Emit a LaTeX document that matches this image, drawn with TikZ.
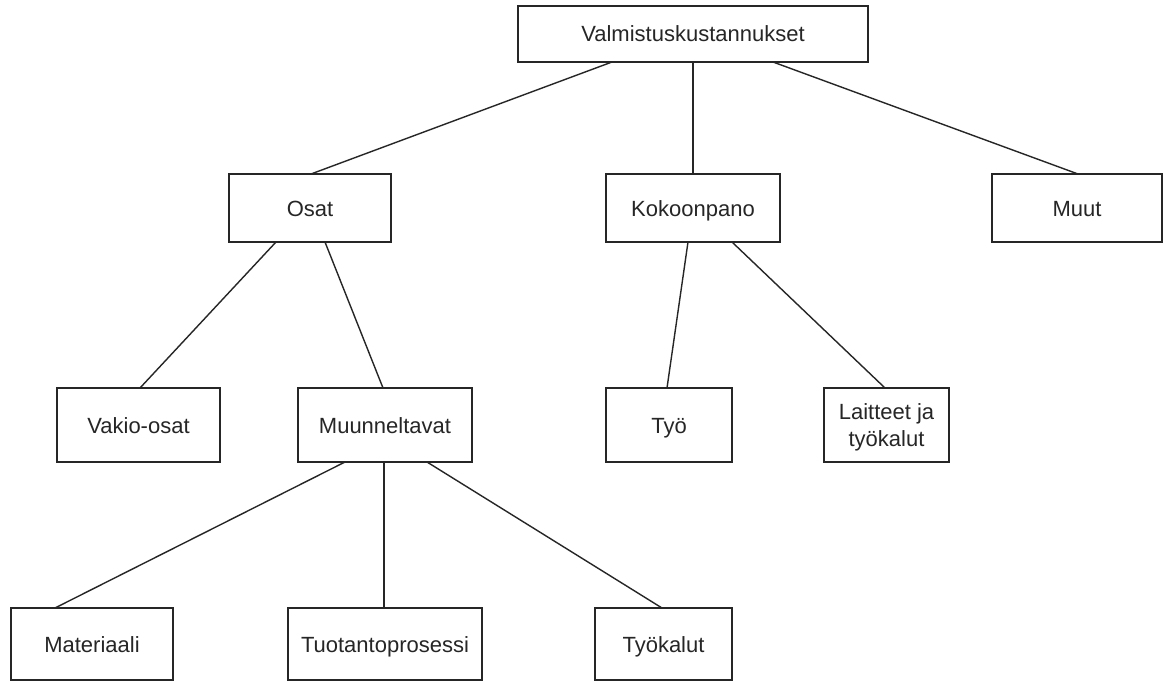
\documentclass[tikz,border=0pt]{standalone}
\usepackage{fontspec}
\setmainfont{Liberation Sans}
\begin{document}
\begin{tikzpicture}[x=1pt,y=-1pt,
  box/.style={draw=black!85, line width=1.6pt, fill=white, inner sep=0pt, outer sep=0pt,
    text=black!85, align=center, font=\fontsize{22}{27}\selectfont,
    text height=16pt, text depth=0pt},
  twoline/.style={box, text height={}, text depth=0pt},
  link/.style={draw=black!85, line width=1.4pt}]
\useasboundingbox[fill=white] (0,0) rectangle (1171,682);

% top level
\node[box, minimum width=350, minimum height=56] (root) at (693,34) {Valmistuskustannukset};

% second level
\node[box, minimum width=162, minimum height=68] (osat) at (310,208) {Osat};
\node[box, minimum width=174, minimum height=68] (kok) at (693,208) {Kokoonpano};
\node[box, minimum width=170, minimum height=68] (muut) at (1077,208) {Muut};

% third level
\node[box, minimum width=163, minimum height=74] (vakio) at (138.5,425) {Vakio-osat};
\node[box, minimum width=174, minimum height=74] (muun) at (385,425) {Muunneltavat};
\node[box, minimum width=126, minimum height=74] (tyo) at (669,425) {Työ};
\node[twoline, minimum width=125, minimum height=74] (lait) at (886.5,425) {Laitteet ja\\työkalut};

% fourth level
\node[box, minimum width=162, minimum height=72] (mat) at (92,644) {Materiaali};
\node[box, minimum width=194, minimum height=72] (tuot) at (385,644) {Tuotantoprosessi};
\node[box, minimum width=137, minimum height=72] (tk) at (663.5,644) {Työkalut};

% connectors
\draw[link] ([xshift=-81]root.south) -- ([xshift=1]osat.north);
\draw[link] (root.south) -- (kok.north);
\draw[link] ([xshift=80]root.south) -- ([xshift=1]muut.north);

\draw[link] ([xshift=-34]osat.south) -- ([xshift=1.5]vakio.north);
\draw[link] ([xshift=15]osat.south) -- ([xshift=-2]muun.north);

\draw[link] ([xshift=-5]kok.south) -- ([xshift=-2]tyo.north);
\draw[link] ([xshift=39]kok.south) -- ([xshift=-1.5]lait.north);

\draw[link] ([xshift=-40]muun.south) -- ([xshift=-37]mat.north);
\draw[link] ([xshift=-1]muun.south) -- ([xshift=-1]tuot.north);
\draw[link] ([xshift=42]muun.south) -- ([xshift=-1.5]tk.north);
\end{tikzpicture}
\end{document}
